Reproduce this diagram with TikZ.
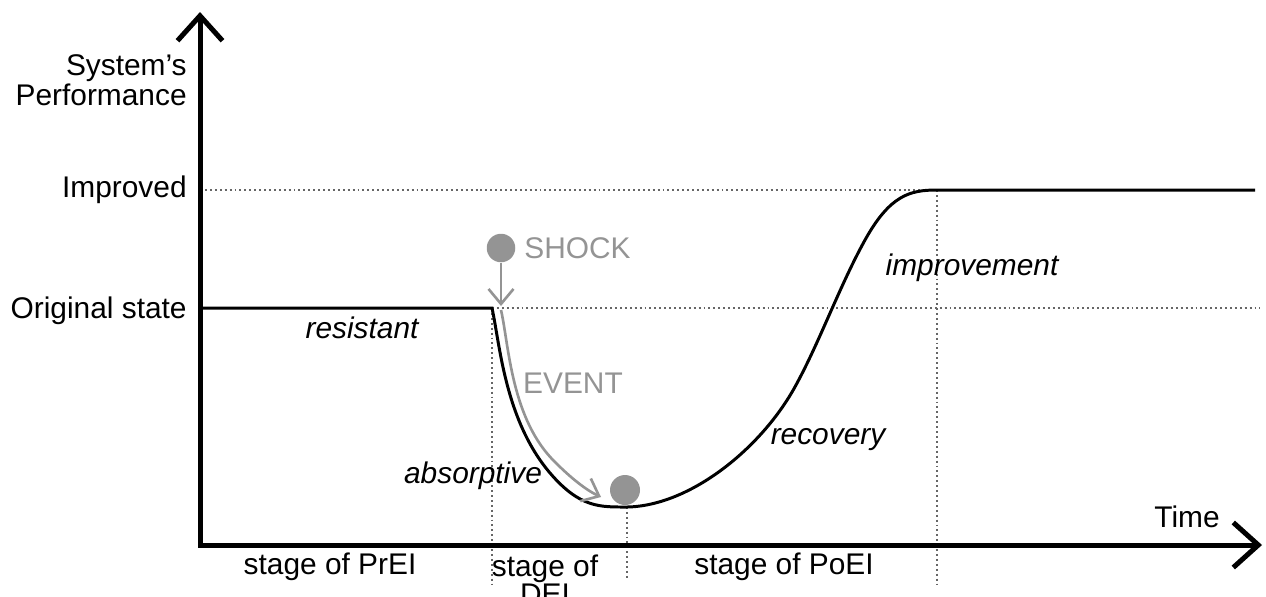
\documentclass[tikz,border=0pt]{standalone}
\usepackage{fontspec}
\setmainfont{Liberation Sans}
\usetikzlibrary{arrows.meta}
\tikzset{
  axis/.style={line width=0.1cm, line join=miter, arrows={Straight Barb[length=0.5cm, width=0.9cm]-Straight Barb[length=0.5cm, width=0.9cm]}},
  guide/.style={black!60, line width=0.8pt, dash pattern=on 1.1pt off 1.7pt},
  perf/.style={line width=1.7pt},
  flow/.style={black!42, line width=1.5pt, arrows={-Straight Barb[length=0.3cm, width=0.5cm]}},
  ball/.style={circle, fill=black!42, inner sep=0pt, minimum size=0.57cm},
  lbl/.style={font=\fontsize{17}{17}\selectfont, inner sep=0pt},
  phase/.style={lbl, font=\fontsize{17}{17}\selectfont\itshape},
  eventlbl/.style={lbl, text=black!42}
}
\begin{document}
\begin{tikzpicture}[x=0.02cm, y=-0.02cm]
                \useasboundingbox (0,0) rectangle (1266,596);
                % levels and stages
                \coordinate (imp0) at (205,190);
                \coordinate (imp1) at (1255,190);
                \coordinate (orig0) at (200,308);
                \coordinate (drop) at (492,308);
                \coordinate (orig1) at (1260,308);
                \coordinate (low) at (627,507);
                \coordinate (top) at (937,190);
                \draw[guide] (imp0) -- (top);
                \draw[guide] (drop) -- (orig1);
                \draw[guide] (drop) -- (492,585);
                \draw[guide] (low) -- (627,580);
                \draw[guide] (top) -- (937,585);
                % axes
                \draw[axis] (200,12) |- (1262,545);
                % performance curve
                \draw[perf] (orig0) -- (drop)
                    .. controls (500,345) and (505,420) .. (550,473)
                    .. controls (580,508) and (600,507) .. (low)
                    .. controls (690,506) and (762,448) .. (796,385)
                    .. controls (820,341) and (840,285) .. (865,240)
                    .. controls (890,195) and (910,190) .. (top) -- (imp1);
                % shock and event
                \node[ball] (shock) at (501,248) {};
                \node[ball, minimum height=0.6cm] (settle) at (625,490) {};
                \coordinate (hit) at (501,306);
                \coordinate (evstart) at (501,310);
                \coordinate (evend) at (601,497);
                \draw[flow] (shock) -- (hit);
                \draw[flow] (evstart) .. controls (509,345) and (511,420) .. (556,463)
                    .. controls (571,478) and (586,490) .. (evend);
                \node[eventlbl, anchor=west] (shocktxt) at (524,248) {SHOCK};
                \node[eventlbl] (eventtxt) at (573,383) {EVENT};
                % axis texts
                \node[lbl, anchor=east, align=right, font=\fontsize{17}{15.5}\selectfont] (ylab) at (187,80) {System's\\Performance};
                \node[lbl, anchor=east] (improved) at (187,190) {Improved};
                \node[lbl, anchor=east] (original) at (187,311) {Original state};
                \node[lbl] (time) at (1187,517) {Time};
                % phases
                \node[phase] (resistant) at (362,328) {resistant};
                \node[phase] (absorptive) at (473,476) {absorptive};
                \node[phase] (recovery) at (828,440) {recovery};
                \node[phase] (improvement) at (972,268) {improvement};
                % stages
                \node[lbl] (prei) at (330,567) {stage of PrEI};
                \node[lbl, align=center, anchor=north, font=\fontsize{17}{15.5}\selectfont] (dei) at (545,555) {stage of\\DEI};
                \node[lbl] (poei) at (784,567) {stage of PoEI};
            \end{tikzpicture}
\end{document}
